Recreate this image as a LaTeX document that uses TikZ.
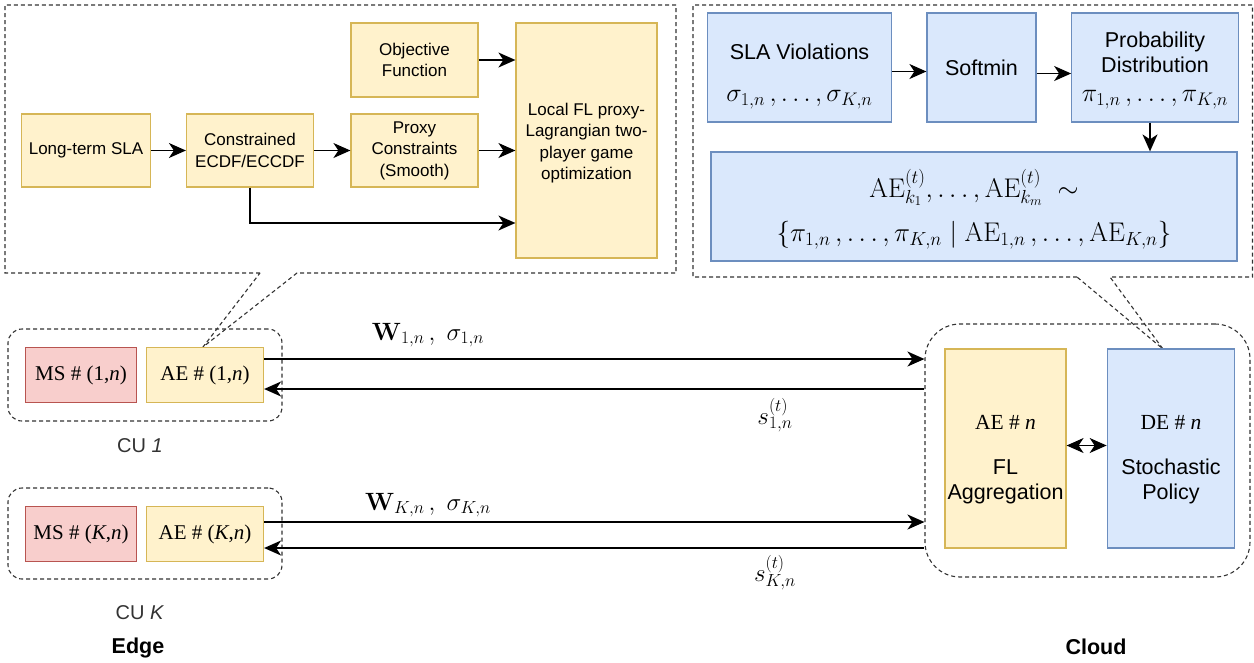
\RequirePackage{fix-cm}
\documentclass[tikz,border=0pt]{standalone}
\usepackage[no-math]{fontspec}
\setmainfont{Liberation Sans}
\newfontfamily\tnr{Liberation Serif}
\usetikzlibrary{arrows.meta}
\definecolor{ylwfill}{HTML}{FFF2CC}
\definecolor{ylwline}{HTML}{D6B656}
\definecolor{blufill}{HTML}{DAE8FC}
\definecolor{bluline}{HTML}{6C8EBF}
\definecolor{redfill}{HTML}{F8CECC}
\definecolor{redline}{HTML}{B85450}
\begin{document}
\begin{tikzpicture}[x=1pt,y=-1pt,
	>={Stealth[length=17pt,width=15pt,inset=5pt]},
	box/.style={draw, line width=1.2pt, align=center, inner sep=0pt},
	ylw/.style={box, fill=ylwfill, draw=ylwline},
	blu/.style={box, fill=blufill, draw=bluline},
	rd/.style={box, fill=redfill, draw=redline},
	arr/.style={line width=1.6pt, ->},
	panel/.style={draw=black!80, line width=1.1pt, dash pattern=on 4pt off 3pt},
	smalltxt/.style={font=\fontsize{17}{21.5}\selectfont},
	bigtxt/.style={font=\fontsize{21.5}{25}\selectfont},
	mathtxt/.style={font=\fontsize{25}{30}\selectfont}]
	\useasboundingbox (0,0) rectangle (1254,662);
	% local side
	\draw[panel] (260,273) -- (5,273) -- (5,5) -- (676,5) -- (676,273) -- (297,273) -- (203,347) -- cycle;
	\node[ylw, smalltxt, minimum width=129pt, minimum height=73pt] (sla) at (86,150.5) {Long-term SLA};
	\node[ylw, smalltxt, minimum width=127pt, minimum height=73pt] (ecdf) at (250,150.5) {Constrained\\ECDF/ECCDF};
	\node[ylw, smalltxt, minimum width=127pt, minimum height=74pt] (obj) at (414.5,60) {Objective\\Function};
	\node[ylw, smalltxt, minimum width=127pt, minimum height=73pt] (proxy) at (414.5,150.5) {Proxy\\Constraints\\(Smooth)};
	\node[ylw, smalltxt, minimum width=141pt, minimum height=235pt] (game) at (586.5,140.5) {\rule{0pt}{18pt}Local FL proxy-\\Lagrangian two-\\player game\\optimization};
	\draw[arr] (sla) -- (ecdf);
	\draw[arr] (ecdf) -- (proxy);
	\draw[arr] (obj.east) -- (obj.east -| game.west);
	\draw[arr] (proxy.east) -- (proxy.east -| game.west);
	\draw[arr] (ecdf.south) -- (250,223) -- (250,223 -| game.west);
	% cloud side
	\draw[panel] (1077,277) -- (693,277) -- (693,5) -- (1252.5,5) -- (1252.5,277) -- (1110,277) -- (1163,349) -- cycle;
	\node[blu, bigtxt, minimum width=184pt, minimum height=109pt] (viol) at (799.5,67.5) {\rule{0pt}{33pt}SLA Violations\\[17pt]\fontsize{26}{30}\selectfont$\sigma_{1,n}\,,\dots,\sigma_{K,n}$};
	\node[blu, bigtxt, minimum width=109pt, minimum height=109pt] (soft) at (981.5,67.5) {Softmin};
	\node[blu, bigtxt, minimum width=166.5pt, minimum height=109pt] (prob) at (1155,67.5) {\rule{0pt}{22pt}Probability\\Distribution\\[4pt]\fontsize{26}{30}\selectfont$\pi_{1,n}\,,\dots,\pi_{K,n}$};
	\node[blu, font=\fontsize{27}{32}\selectfont, minimum width=526pt, minimum height=109pt] (pick) at (974,206.5) {\rule{0pt}{34pt}$\mathrm{AE}^{(t)}_{k_1},\dots,\mathrm{AE}^{(t)}_{k_m}\;\sim$\\[12pt]$\{\pi_{1,n}\,,\dots,\pi_{K,n}\mid\mathrm{AE}_{1,n}\,,\dots,\mathrm{AE}_{K,n}\}$};
	\draw[arr] ([yshift=-4pt]viol.east) -- ([yshift=-4pt]viol.east -| soft.west);
	\draw[arr] ([yshift=-6pt]soft.east) -- ([yshift=-6pt]soft.east -| prob.west);
	\draw[arr] ([xshift=-5pt]prob.south) -- ([xshift=-5pt]prob.south |- pick.north);
	% edge units
	\node[panel, rounded corners=14pt, minimum width=274pt, minimum height=92pt] (cu1) at (145,375) {};
	\node[panel, rounded corners=14pt, minimum width=274pt, minimum height=91pt] (cuK) at (145,533.5) {};
	\node[rd, minimum width=111pt, minimum height=54.5pt, font=\tnr\fontsize{21}{25}\selectfont] (ms1) at (81,375) {MS \# (1,\textit{n})};
	\node[ylw, minimum width=117pt, minimum height=54.5pt, font=\tnr\fontsize{21}{25}\selectfont] (ae1) at (205,375) {AE \# (1,\textit{n})};
	\node[rd, minimum width=111pt, minimum height=55pt, font=\tnr\fontsize{21}{25}\selectfont] (msK) at (81,534) {MS \# (\textit{K},\textit{n})};
	\node[ylw, minimum width=117pt, minimum height=55pt, font=\tnr\fontsize{21}{25}\selectfont] (aeK) at (205,534) {AE \# (\textit{K},\textit{n})};
	\node[font=\fontsize{20}{24}\selectfont, text=black!80] (lbl1) at (140,446) {CU \textit{1}};
	\node[font=\fontsize{20}{24}\selectfont, text=black!80] (lblK) at (140,613) {CU \textit{K}};
	\node[font=\bfseries\fontsize{21.5}{25}\selectfont] (edge) at (138,648) {Edge};
	% server
	\node[panel, rounded corners=35pt, minimum width=325pt, minimum height=253pt] (cloud) at (1087.5,450.5) {};
	\node[ylw, bigtxt, minimum width=121pt, minimum height=199pt] (aen) at (1005.5,448.5) {\rule{0pt}{36pt}{\tnr AE \# \textit{n}}\\[20pt]FL\\Aggregation};
	\node[blu, bigtxt, minimum width=127.5pt, minimum height=199pt] (den) at (1171,448.5) {\rule{0pt}{36pt}{\tnr DE \# \textit{n}}\\[20pt]Stochastic\\Policy};
	\node[font=\bfseries\fontsize{21.5}{25}\selectfont] (cloudlbl) at (1096,647) {Cloud};
	\draw[line width=1.6pt, <->] ([yshift=3pt]aen.east) -- ([yshift=3pt]aen.east -| den.west);
	% links
	\draw[arr] ([yshift=16pt]ae1.east) -- ([yshift=16pt]ae1.east -| cloud.west);
	\draw[arr] ([yshift=-14pt]ae1.east -| cloud.west) -- ([yshift=-14pt]ae1.east);
	\draw[arr] ([yshift=12pt]aeK.east) -- ([yshift=12pt]aeK.east -| cloud.west);
	\draw[arr] ([yshift=-14pt]aeK.east -| cloud.west) -- ([yshift=-14pt]aeK.east);
	\node[mathtxt] (up1) at (428,335) {$\mathbf{W}_{1,n}\,,\ \sigma_{1,n}$};
	\node[mathtxt] (upK) at (428,505) {$\mathbf{W}_{K,n}\,,\ \sigma_{K,n}$};
	\node[mathtxt] (dn1) at (775,415) {$s^{(t)}_{1,n}$};
	\node[mathtxt] (dnK) at (775,573) {$s^{(t)}_{K,n}$};
\end{tikzpicture}
\end{document}
